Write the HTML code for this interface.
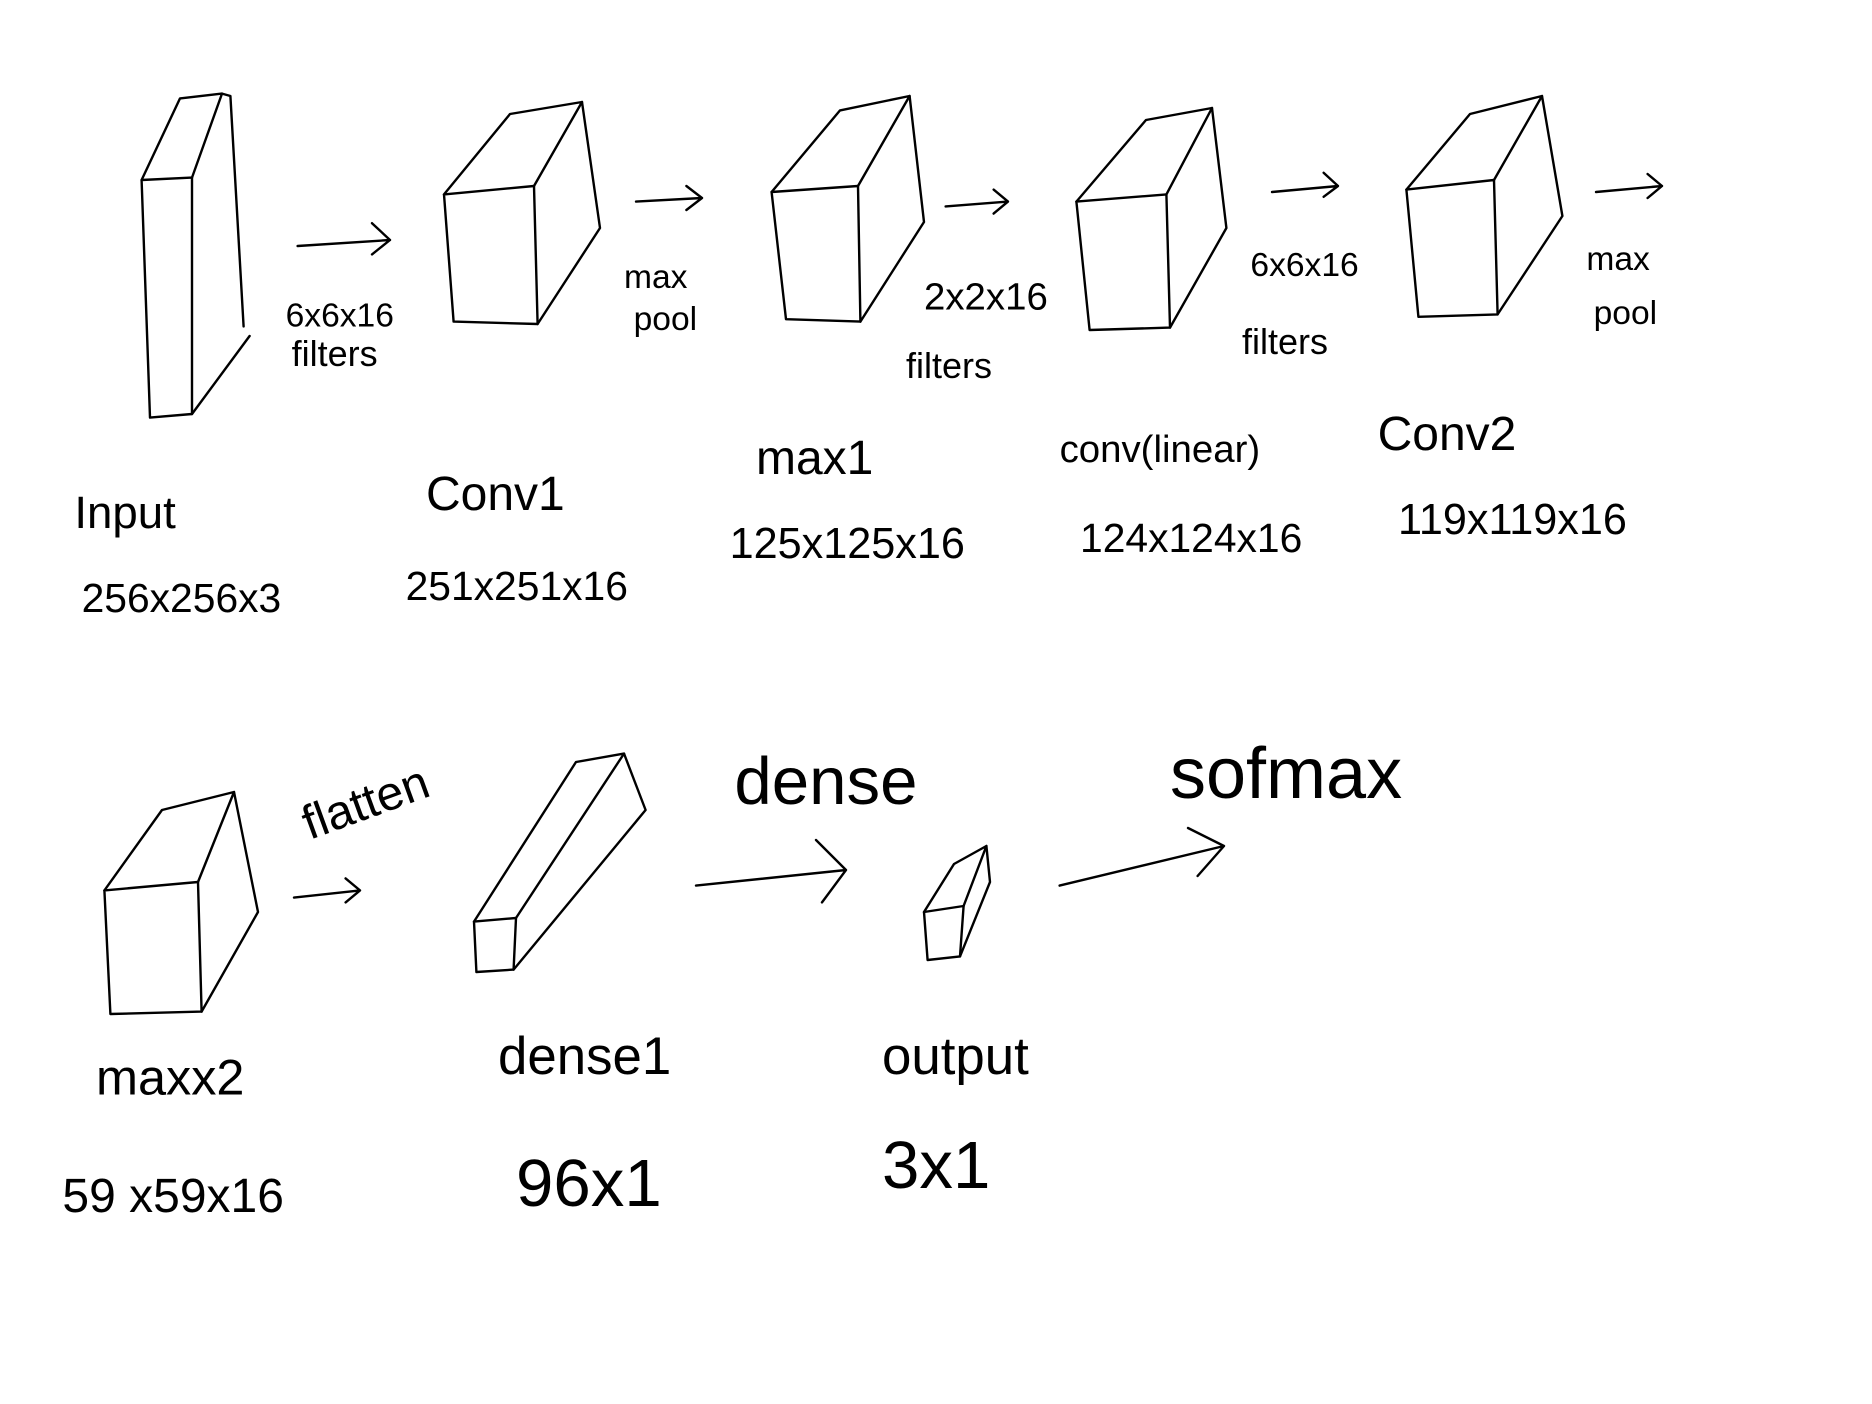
<!DOCTYPE html>
<html><head><meta charset="utf-8"><style>
html,body{margin:0;padding:0;background:#fff;}
svg{display:block}
text{font-family:"Liberation Sans",sans-serif;fill:#000;}
</style></head><body>
<svg width="1872" height="1404" viewBox="0 0 1560 1170" xmlns="http://www.w3.org/2000/svg">
<g fill="none" stroke="#000" stroke-width="2" stroke-linecap="round" stroke-linejoin="round">
<!-- Input -->
<path d="M118 150 L160 148 L160 345 L125 348 Z"/>
<path d="M118 150 L150 82 L185 78 L160 148"/>
<path d="M185 78 L192 80 L203 272"/>
<path d="M160 345 L208 280"/>
<!-- Conv1 -->
<path d="M370 162 L445 155 L448 270 L378 268 Z"/>
<path d="M370 162 L425 95 L485 85 L445 155"/>
<path d="M485 85 L500 190 L448 270"/>
<!-- max1 -->
<path d="M643 160 L715 155 L717 268 L655 266 Z"/>
<path d="M643 160 L700 92 L758 80 L715 155"/>
<path d="M758 80 L770 185 L717 268"/>
<!-- conv linear -->
<path d="M897 168 L972 162 L975 273 L908 275 Z"/>
<path d="M897 168 L955 100 L1010 90 L972 162"/>
<path d="M1010 90 L1022 190 L975 273"/>
<!-- Conv2 -->
<path d="M1172 158 L1245 150 L1248 262 L1182 264 Z"/>
<path d="M1172 158 L1225 95 L1285 80 L1245 150"/>
<path d="M1285 80 L1302 180 L1248 262"/>
<!-- maxx2 -->
<path d="M87 742 L165 735 L168 843 L92 845 Z"/>
<path d="M87 742 L135 675 L195 660 L165 735"/>
<path d="M195 660 L215 760 L168 843"/>
<!-- dense1 -->
<path d="M395 768 L430 765 L428 808 L397 810 Z"/>
<path d="M395 768 L480 635 L520 628 L430 765"/>
<path d="M520 628 L538 675 L428 808"/>
<!-- output -->
<path d="M770 760 L803 755 L800 797 L773 800 Z"/>
<path d="M770 760 L795 720 L822 705 L803 755"/>
<path d="M822 705 L825 735 L800 797"/>
<!-- arrows -->
<path d="M248 205 L325 200 M310 186 L325 200 L310 212"/>
<path d="M530 168 L585 165 M572 155 L585 165 L572 175"/>
<path d="M788 172 L840 168 M828 158 L840 168 L828 178"/>
<path d="M1060 160 L1115 155 M1103 144 L1115 155 L1103 164"/>
<path d="M1330 160 L1385 155 M1373 145 L1385 155 L1373 165"/>
<path d="M245 748 L300 742 M288 732 L300 742 L288 752"/>
<path d="M580 738 L705 725 M680 700 L705 725 L685 752"/>
<path d="M883 738 L1020 705 M990 690 L1020 705 L998 730"/>
</g>
<g font-size="34">
<text x="238" y="272" font-size="28">6x6x16</text>
<text x="243" y="305" font-size="30">filters</text>
<text x="520" y="240" font-size="28">max</text>
<text x="528" y="275" font-size="28">pool</text>
<text x="770" y="258" font-size="32">2x2x16</text>
<text x="755" y="315" font-size="30">filters</text>
<text x="1042" y="230" font-size="28">6x6x16</text>
<text x="1035" y="295" font-size="30">filters</text>
<text x="1322" y="225" font-size="28">max</text>
<text x="1328" y="270" font-size="28">pool</text>
<text x="62" y="440" font-size="38">Input</text>
<text x="68" y="510" font-size="34">256x256x3</text>
<text x="355" y="425" font-size="40">Conv1</text>
<text x="338" y="500" font-size="34">251x251x16</text>
<text x="630" y="395" font-size="40">max1</text>
<text x="608" y="465" font-size="36">125x125x16</text>
<text x="883" y="385" font-size="32">conv(linear)</text>
<text x="900" y="460" font-size="34">124x124x16</text>
<text x="1148" y="375" font-size="40">Conv2</text>
<text x="1165" y="445" font-size="36">119x119x16</text>
<text x="80" y="912" font-size="42">maxx2</text>
<text x="52" y="1010" font-size="40">59  x59x16</text>
<text x="258" y="700" font-size="40" transform="rotate(-20 258 700)">flatten</text>
<text x="415" y="895" font-size="44">dense1</text>
<text x="430" y="1005" font-size="56">96x1</text>
<text x="612" y="670" font-size="56">dense</text>
<text x="735" y="895" font-size="44">output</text>
<text x="735" y="990" font-size="56">3x1</text>
<text x="975" y="665" font-size="60">sofmax</text>
</g>
</svg>
</body></html>
